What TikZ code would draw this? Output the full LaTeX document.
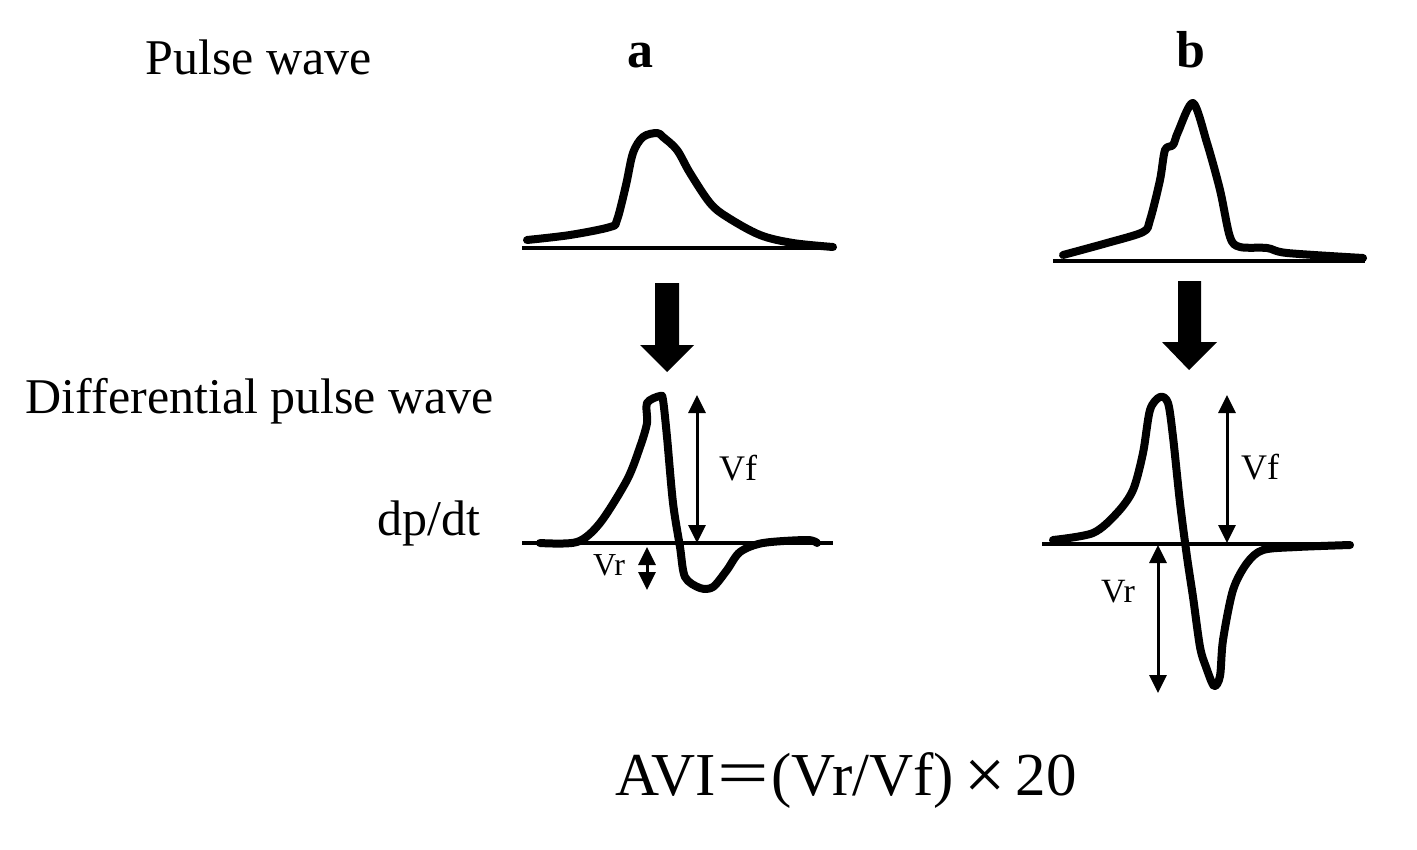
\documentclass[tikz,border=0pt]{standalone}
\usepackage{fontspec}
\setmainfont{Liberation Serif}
\usetikzlibrary{arrows.meta}

\begin{document}
\begin{tikzpicture}[x=0.5pt,y=-0.5pt,>=Stealth,
  lbl/.style={inner sep=0pt,anchor=base,font=\fontsize{25}{30}\selectfont},
  panel/.style={inner sep=0pt,anchor=base,font=\fontsize{26}{30}\selectfont\bfseries},
  vlbl/.style={inner sep=0pt,font=\fontsize{18}{20}\selectfont},
  axis/.style={line width=2pt},
  wave/.style={line width=4pt,line join=round,line cap=round},
  dim/.style={line width=1.5pt,{Triangle[length=9pt,width=8.5pt]}-{Triangle[length=9pt,width=8.5pt]}},
  bigarrow/.style={fill=black}]
\useasboundingbox (0,0) rectangle (1417,850);
\node[lbl] (pulse) at (259,75) {Pulse wave};
\node[lbl] (diff) at (260,413) {Differential pulse wave};
\node[lbl] (dpdt) at (429,535) {dp/dt};
\node[panel] (pa) at (640,68) {a};
\node[panel] (pb) at (1191,68) {b};
\node[inner sep=0pt,anchor=base,font=\fontsize{30.5}{34}\selectfont] (avi) at (846,795) {AVI\kern1pt\scalebox{1.5}[1.1]{=}\kern1pt(Vr/Vf)\,\raisebox{-2.2pt}{\scalebox{1.2}{\texttimes}}\,20};
\draw[axis] (522,248) -- (832,248);
\draw[wave] plot[smooth,tension=0.55] coordinates {(527,240) (570,235) (610,227) (617,220) (626,185) (633,153) (643,137) (657,133) (663,137) (677,150) (690,173) (710,203) (727,217) (760,235) (793,243) (833,247)};
\draw[axis] (1053,261) -- (1365,261);
\draw[wave] plot[smooth,tension=0.5] coordinates {(1063,255) (1107,243) (1143,232) (1150,220) (1160,180) (1165,150) (1173,145) (1178,132) (1193,103) (1207,143) (1220,190) (1230,237) (1240,247) (1267,248) (1287,253) (1363,258)};
\fill[bigarrow] (655,283) -- (679,283) -- (679,345) -- (694,345) -- (667,372) -- (640,345) -- (655,345) -- cycle;
\fill[bigarrow] (1178,281) -- (1201,281) -- (1201,342) -- (1217,342) -- (1189,370) -- (1162,342) -- (1178,342) -- cycle;
\draw[axis] (522,543) -- (833,543);
\draw[wave] plot[smooth,tension=0.5] coordinates {(540,543) (577,542) (600,523) (627,480) (640,447) (647,423) (647,403) (660,396) (663,400) (667,437) (673,503) (680,547) (685,577) (700,588) (713,587) (727,570) (740,552) (763,543) (807,540) (817,543)};
\draw[axis] (1042,544) -- (1353,544);
\draw[wave] plot[smooth,tension=0.5] coordinates {(1053,540) (1093,533) (1117,513) (1133,490) (1143,453) (1150,410) (1160,397) (1168,403) (1173,437) (1180,503) (1187,557) (1193,597) (1200,647) (1206,667) (1214,686) (1220,676) (1223,640) (1233,590) (1247,563) (1263,550) (1297,547) (1350,545)};
\coordinate (vfatop) at (697,395);
\coordinate (vfabot) at (697,543);
\coordinate (vratop) at (647,547);
\coordinate (vrabot) at (647,590);
\coordinate (vfbtop) at (1227,395);
\coordinate (vfbbot) at (1227,543);
\coordinate (vrbtop) at (1158,545);
\coordinate (vrbbot) at (1158,693);
\draw[dim] (vfatop) -- (vfabot);
\draw[dim] (vratop) -- (vrabot);
\draw[dim] (vfbtop) -- (vfbbot);
\draw[dim] (vrbtop) -- (vrbbot);
\node[vlbl] (vfa) at (738,468) {Vf};
\node[vlbl,font=\fontsize{16}{18}\selectfont] (vra) at (609,565) {Vr};
\node[vlbl] (vfb) at (1260,467) {Vf};
\node[vlbl,font=\fontsize{17}{18}\selectfont] (vrb) at (1118,592) {Vr};
\end{tikzpicture}
\end{document}
